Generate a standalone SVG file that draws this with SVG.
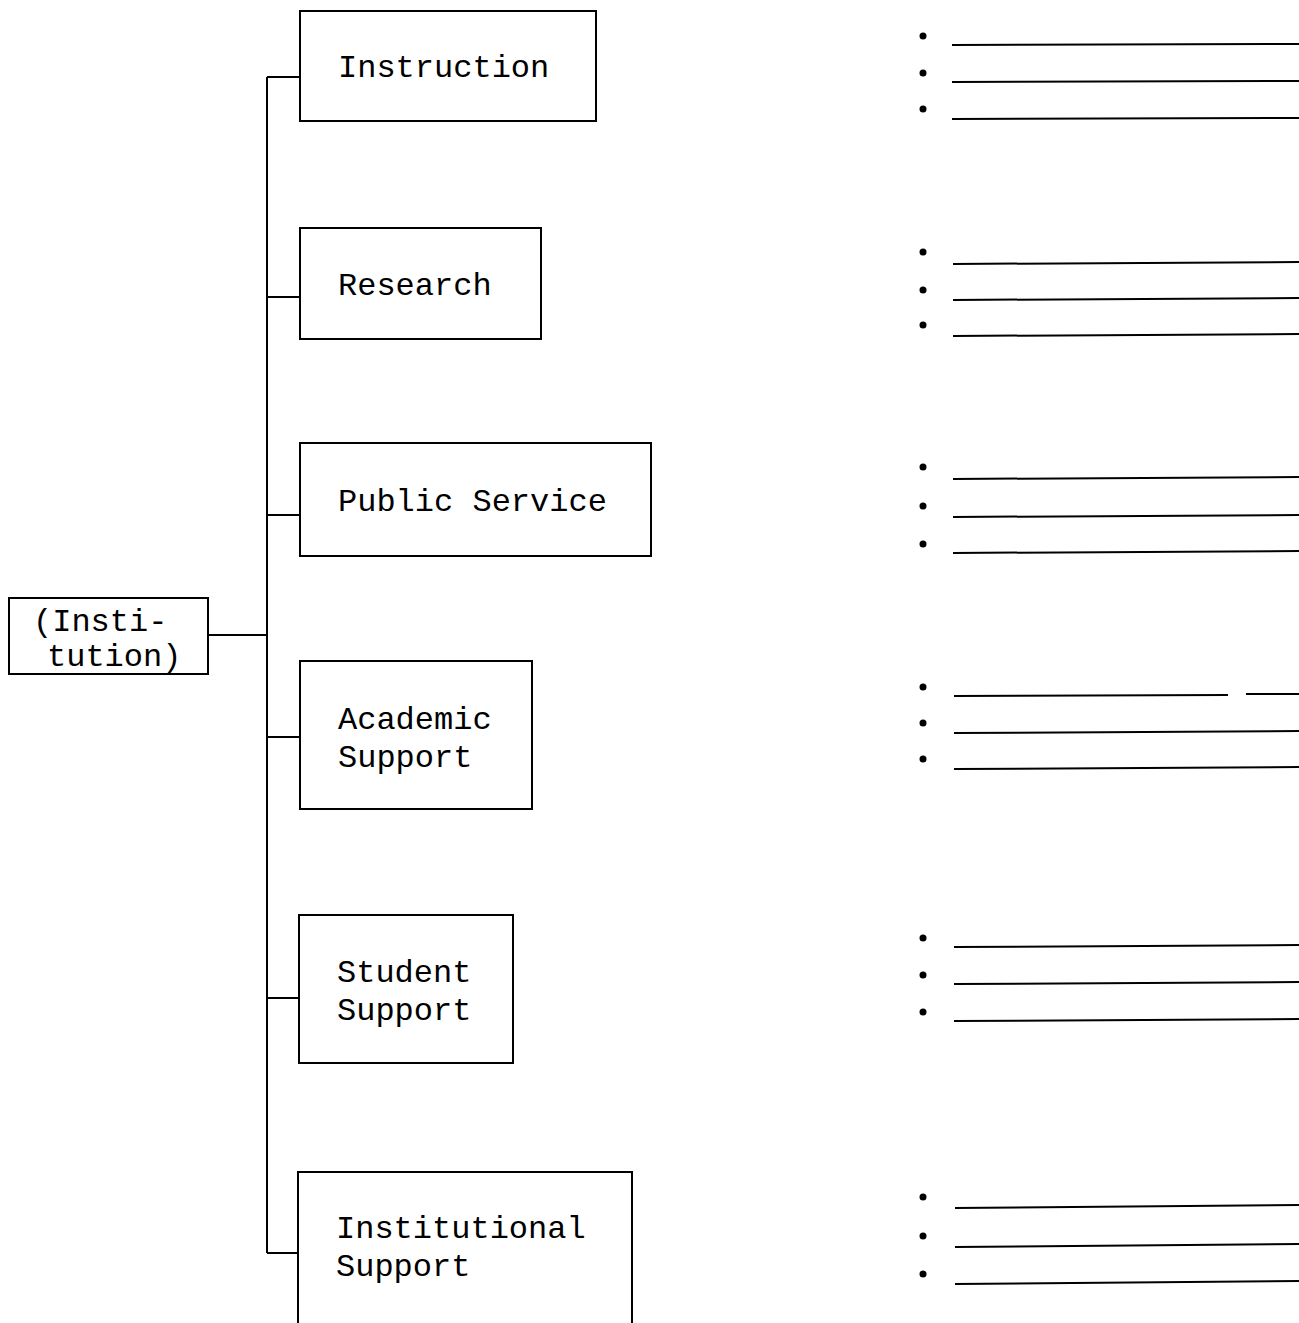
<svg xmlns="http://www.w3.org/2000/svg" width="1299" height="1323" viewBox="0 0 1299 1323">
<style>
.box{fill:none;stroke:#000;stroke-width:2}
.t{font-family:"Liberation Mono","Courier New",monospace;font-size:32px;fill:#000}
.c{stroke:#000;stroke-width:2;fill:none}
.ln{stroke:#000;stroke-width:2}
.b{fill:#000}
</style>
<rect width="1299" height="1323" fill="#fff"/>
<g id="connectors">
<path class="c" d="M267 77 V1253"/>
<path class="c" d="M208 635 H267"/>
<path class="c" d="M267 77 H300 M267 297 H300 M267 515 H300 M267 737 H300 M267 998 H299 M267 1253 H298"/>
</g>
<g id="institution"><rect class="box" x="9" y="598" width="199" height="76"/><text class="t" x="33" y="631">(Insti-</text><text class="t" x="47" y="666">tution)</text></g>
<g id="instruction"><rect class="box" x="300" y="11" width="296" height="110"/><text class="t" x="338" y="77">Instruction</text></g>
<g id="research"><rect class="box" x="300" y="228" width="241" height="111"/><text class="t" x="338" y="295">Research</text></g>
<g id="public-service"><rect class="box" x="300" y="443" width="351" height="113"/><text class="t" x="338" y="511">Public Service</text></g>
<g id="academic-support"><rect class="box" x="300" y="661" width="232" height="148"/><text class="t" x="338" y="729">Academic</text><text class="t" x="338" y="767">Support</text></g>
<g id="student-support"><rect class="box" x="299" y="915" width="214" height="148"/><text class="t" x="337" y="982">Student</text><text class="t" x="337" y="1020">Support</text></g>
<g id="institutional-support"><rect class="box" x="298" y="1172" width="334" height="160"/><text class="t" x="336" y="1238">Institutional</text><text class="t" x="336" y="1276">Support</text></g>
<g id="blanks">
<circle class="b" cx="923" cy="36" r="3.5"/><circle class="b" cx="923" cy="73" r="3.5"/><circle class="b" cx="923" cy="109" r="3.5"/>
<line class="ln" x1="952" y1="45" x2="1299" y2="44"/><line class="ln" x1="952" y1="82" x2="1299" y2="81"/><line class="ln" x1="952" y1="119" x2="1299" y2="118"/>
<circle class="b" cx="923" cy="252" r="3.5"/><circle class="b" cx="923" cy="290" r="3.5"/><circle class="b" cx="923" cy="325" r="3.5"/>
<line class="ln" x1="953" y1="264" x2="1299" y2="262"/><line class="ln" x1="953" y1="300" x2="1299" y2="298"/><line class="ln" x1="953" y1="336" x2="1299" y2="334"/>
<circle class="b" cx="923" cy="467" r="3.5"/><circle class="b" cx="923" cy="506" r="3.5"/><circle class="b" cx="923" cy="544" r="3.5"/>
<line class="ln" x1="953" y1="479" x2="1299" y2="477"/><line class="ln" x1="953" y1="517" x2="1299" y2="515"/><line class="ln" x1="953" y1="553" x2="1299" y2="551"/>
<circle class="b" cx="923" cy="687" r="3.5"/><circle class="b" cx="923" cy="723" r="3.5"/><circle class="b" cx="923" cy="759" r="3.5"/>
<line class="ln" x1="954" y1="696" x2="1228" y2="695"/><line class="ln" x1="1246" y1="694" x2="1299" y2="694"/><line class="ln" x1="954" y1="733" x2="1299" y2="731"/><line class="ln" x1="954" y1="769" x2="1299" y2="767"/>
<circle class="b" cx="923" cy="938" r="3.5"/><circle class="b" cx="923" cy="975" r="3.5"/><circle class="b" cx="923" cy="1012" r="3.5"/>
<line class="ln" x1="954" y1="947" x2="1299" y2="945"/><line class="ln" x1="954" y1="984" x2="1299" y2="982"/><line class="ln" x1="954" y1="1021" x2="1299" y2="1019"/>
<circle class="b" cx="923" cy="1197" r="3.5"/><circle class="b" cx="923" cy="1236" r="3.5"/><circle class="b" cx="923" cy="1274" r="3.5"/>
<line class="ln" x1="955" y1="1208" x2="1299" y2="1205"/><line class="ln" x1="955" y1="1247" x2="1299" y2="1244"/><line class="ln" x1="955" y1="1284" x2="1299" y2="1281"/>
</g>
</svg>
